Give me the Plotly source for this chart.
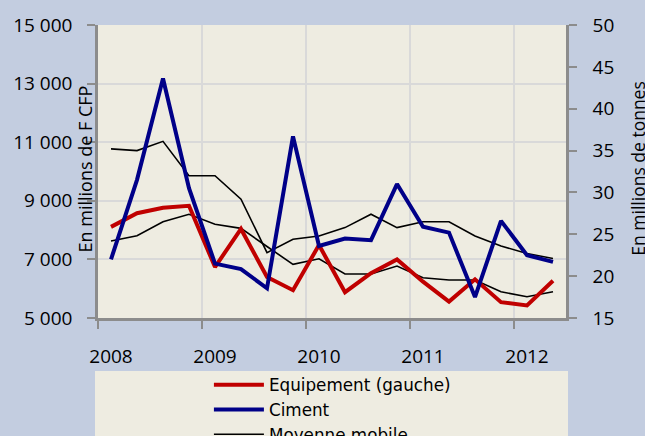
import plotly.graph_objects as go

quarters = list(range(18))  # 2008 Q1 .. 2012 Q2
year_labels = ["2008", "2009", "2010", "2011", "2012"]
year_tick_pos = [0, 4, 8, 12, 16]
year_bounds = [-0.5, 3.5, 7.5, 11.5, 15.5]

equipement = [8110, 8575, 8760, 8830, 6740, 8040, 6400, 5950, 7490, 5880,
              6530, 7000, 6240, 5560, 6320, 5540, 5430, 6270]
ciment = [22.0, 31.5, 43.6, 30.5, 21.5, 20.85, 18.55, 36.7, 23.6, 24.5,
          24.3, 31.0, 25.9, 25.2, 17.5, 26.6, 22.5, 21.7]
mm_equipement = [7627, 7808, 8285, 8538, 8200, 8060, 7440, 6832, 7020, 6501,
                 6501, 6774, 6375, 6297, 6297, 5897, 5727, 5897]
mm_ciment = [35.2, 35.0, 36.1, 32.0, 32.0, 29.2, 22.8, 24.4, 24.8, 25.8,
             27.4, 25.8, 26.5, 26.5, 24.8, 23.6, 22.7, 22.1]

left_ticks = [5000, 7000, 9000, 11000, 13000, 15000]
left_ticktext = ["5 000", "7 000", "9 000", "11 000", "13 000", "15 000"]
right_ticks = [15, 20, 25, 30, 35, 40, 45, 50]

FONT = "Open Sans"
AXIS_GRAY = "#8c8c8c"
GRID = "#d9d9d9"

fig = go.Figure()
fig.add_trace(go.Scatter(x=quarters, y=mm_equipement, mode="lines", name="Moyenne mobile",
                         line=dict(color="black", width=1.6), showlegend=False, legendrank=3))
fig.add_trace(go.Scatter(x=quarters, y=mm_ciment, mode="lines", name="Moyenne mobile",
                         line=dict(color="black", width=1.6), yaxis="y2", showlegend=True, legendrank=3))
fig.add_trace(go.Scatter(x=quarters, y=equipement, mode="lines", name="Equipement (gauche)",
                         line=dict(color="#c00000", width=4), legendrank=1))
fig.add_trace(go.Scatter(x=quarters, y=ciment, mode="lines", name="Ciment",
                         line=dict(color="#000088", width=4), yaxis="y2", legendrank=2))

fig.update_layout(
    width=645, height=436,
    margin=dict(l=98, r=79, t=25, b=118, autoexpand=False),
    paper_bgcolor="#c3cde0",
    plot_bgcolor="#eeece1",
    font=dict(family=FONT, size=19, color="black"),
    xaxis=dict(
        range=[-0.5, 17.5], tickvals=year_tick_pos, ticktext=year_labels,
        ticks="", showgrid=False, zeroline=False,
        showline=True, linecolor=AXIS_GRAY, linewidth=2.5,
        ticklabelstandoff=19,
        minor=dict(tickvals=year_bounds, ticks="outside", ticklen=8, tickwidth=2,
                   tickcolor=AXIS_GRAY, showgrid=True, gridcolor=GRID, gridwidth=2),
    ),
    yaxis=dict(
        range=[5000, 15000], tickvals=left_ticks, ticktext=left_ticktext,
        ticks="outside", ticklen=8, tickwidth=2, tickcolor=AXIS_GRAY,
        showline=True, linecolor=AXIS_GRAY, linewidth=2.5,
        showgrid=True, gridcolor=GRID, gridwidth=2, zeroline=False,
        ticklabelstandoff=11,
    ),
    yaxis2=dict(
        range=[15, 50], tickvals=right_ticks, overlaying="y", side="right",
        ticks="outside", ticklen=8, tickwidth=2, tickcolor=AXIS_GRAY,
        showline=True, linecolor=AXIS_GRAY, linewidth=2.5,
        showgrid=False, zeroline=False, ticklabelstandoff=12,
    ),
    legend=dict(
        x=0.237, y=-0.168, xanchor="left", yanchor="top",
        bgcolor="rgba(0,0,0,0)", font=dict(family="DejaVu Sans", size=16.8),
        itemwidth=50, tracegroupgap=0,
    ),
    shapes=[dict(type="rect", xref="paper", yref="paper",
                 x0=-0.0064, x1=1.0043, y0=-0.181, y1=-0.6,
                 fillcolor="#eeece1", line=dict(width=0), layer="below")],
    annotations=[
        dict(text="En millions de F CFP", xref="paper", yref="paper", x=-0.028, y=0.51,
             xanchor="center", yanchor="middle", textangle=-90, showarrow=False,
             font=dict(family=FONT, size=18)),
        dict(text="En millions de tonnes", xref="paper", yref="paper", x=1.152, y=0.51,
             xanchor="center", yanchor="middle", textangle=-90, showarrow=False,
             font=dict(family=FONT, size=17.5)),
    ],
)

fig.write_html("out.html",
               config={"displayModeBar": False},
               post_script="document.body.style.margin='0px';document.body.style.padding='0px';")
